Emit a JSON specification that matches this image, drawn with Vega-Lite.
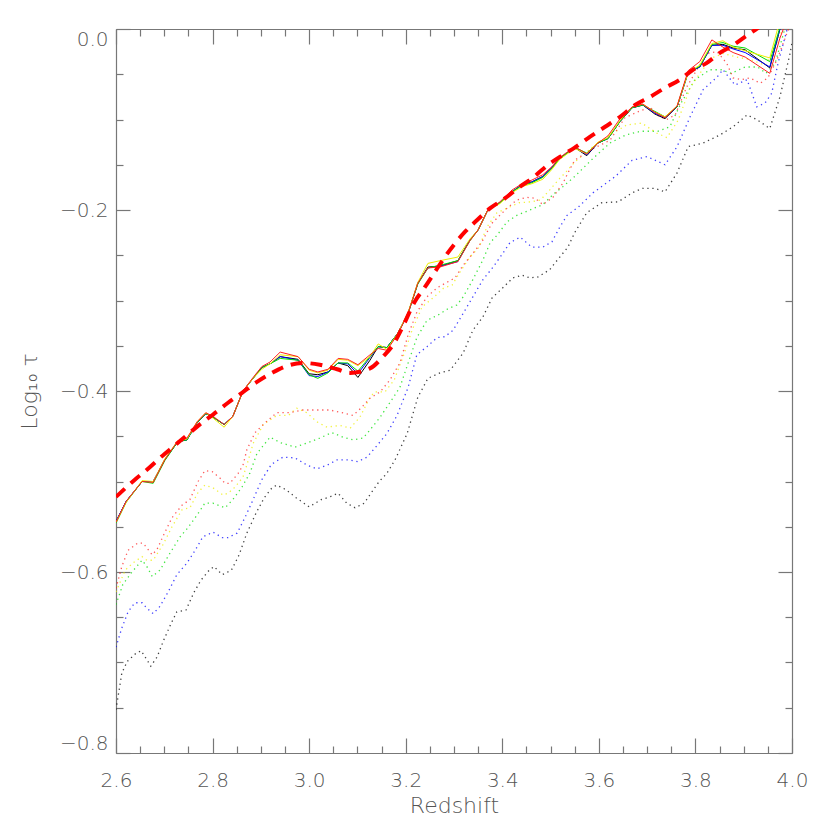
{
  "$schema": "https://vega.github.io/schema/vega-lite/v6.json",
  "width": 676,
  "height": 724,
  "autosize": {"type": "none"},
  "padding": {"left": 116, "top": 29, "right": 38, "bottom": 77},
  "background": "white",
  "config": {
    "view": {"stroke": null},
    "axis": {
      "grid": false,
      "domainColor": "#777777",
      "domainWidth": 1.2,
      "tickColor": "#777777",
      "tickWidth": 1.2,
      "labelFont": "DejaVu Sans",
      "labelFontWeight": 300,
      "labelFontSize": 20,
      "labelColor": "#555555",
      "titleFont": "DejaVu Sans",
      "titleFontWeight": 300,
      "titleFontSize": 22,
      "titleColor": "#555555",
      "labelOverlap": false,
      "labelBound": false
    }
  },
  "datasets": {
    "dotted": [
      {"s":"black","z":2.600,"v":-0.752},{"s":"black","z":2.606,"v":-0.732},{"s":"black","z":2.612,"v":-0.712},{"s":"black","z":2.623,"v":-0.699},{"s":"black","z":2.641,"v":-0.690},{"s":"black","z":2.652,"v":-0.687},{"s":"black","z":2.664,"v":-0.697},{"s":"black","z":2.672,"v":-0.704},{"s":"black","z":2.685,"v":-0.694},{"s":"black","z":2.699,"v":-0.675},{"s":"black","z":2.714,"v":-0.657},{"s":"black","z":2.726,"v":-0.644},{"s":"black","z":2.745,"v":-0.642},{"s":"black","z":2.761,"v":-0.623},{"s":"black","z":2.776,"v":-0.609},{"s":"black","z":2.793,"v":-0.598},{"s":"black","z":2.803,"v":-0.594},{"s":"black","z":2.820,"v":-0.603},{"s":"black","z":2.839,"v":-0.598},{"s":"black","z":2.855,"v":-0.581},{"s":"black","z":2.871,"v":-0.557},{"s":"black","z":2.890,"v":-0.535},{"s":"black","z":2.907,"v":-0.518},{"s":"black","z":2.923,"v":-0.507},{"s":"black","z":2.933,"v":-0.504},{"s":"black","z":2.952,"v":-0.509},{"s":"black","z":2.973,"v":-0.518},{"s":"black","z":3.000,"v":-0.528},{"s":"black","z":3.025,"v":-0.520},{"s":"black","z":3.043,"v":-0.517},{"s":"black","z":3.060,"v":-0.513},{"s":"black","z":3.078,"v":-0.524},{"s":"black","z":3.095,"v":-0.529},{"s":"black","z":3.114,"v":-0.524},{"s":"black","z":3.128,"v":-0.513},{"s":"black","z":3.145,"v":-0.500},{"s":"black","z":3.161,"v":-0.491},{"s":"black","z":3.178,"v":-0.476},{"s":"black","z":3.203,"v":-0.447},{"s":"black","z":3.225,"v":-0.407},{"s":"black","z":3.246,"v":-0.386},{"s":"black","z":3.271,"v":-0.380},{"s":"black","z":3.292,"v":-0.377},{"s":"black","z":3.319,"v":-0.358},{"s":"black","z":3.339,"v":-0.333},{"s":"black","z":3.360,"v":-0.318},{"s":"black","z":3.379,"v":-0.297},{"s":"black","z":3.401,"v":-0.286},{"s":"black","z":3.422,"v":-0.275},{"s":"black","z":3.441,"v":-0.272},{"s":"black","z":3.457,"v":-0.275},{"s":"black","z":3.474,"v":-0.274},{"s":"black","z":3.498,"v":-0.266},{"s":"black","z":3.519,"v":-0.252},{"s":"black","z":3.536,"v":-0.241},{"s":"black","z":3.550,"v":-0.225},{"s":"black","z":3.575,"v":-0.203},{"s":"black","z":3.606,"v":-0.192},{"s":"black","z":3.640,"v":-0.191},{"s":"black","z":3.669,"v":-0.181},{"s":"black","z":3.691,"v":-0.176},{"s":"black","z":3.716,"v":-0.176},{"s":"black","z":3.737,"v":-0.180},{"s":"black","z":3.762,"v":-0.159},{"s":"black","z":3.785,"v":-0.130},{"s":"black","z":3.816,"v":-0.126},{"s":"black","z":3.851,"v":-0.117},{"s":"black","z":3.878,"v":-0.108},{"s":"black","z":3.907,"v":-0.095},{"s":"black","z":3.927,"v":-0.100},{"s":"black","z":3.954,"v":-0.110},{"s":"black","z":3.975,"v":-0.075},{"s":"black","z":3.996,"v":-0.027},{"s":"black","z":4.000,"v":-0.015},
      {"s":"blue","z":2.600,"v":-0.683},{"s":"blue","z":2.612,"v":-0.662},{"s":"blue","z":2.625,"v":-0.644},{"s":"blue","z":2.639,"v":-0.634},{"s":"blue","z":2.654,"v":-0.634},{"s":"blue","z":2.664,"v":-0.640},{"s":"blue","z":2.677,"v":-0.646},{"s":"blue","z":2.691,"v":-0.638},{"s":"blue","z":2.708,"v":-0.622},{"s":"blue","z":2.726,"v":-0.603},{"s":"blue","z":2.747,"v":-0.590},{"s":"blue","z":2.764,"v":-0.576},{"s":"blue","z":2.780,"v":-0.561},{"s":"blue","z":2.801,"v":-0.556},{"s":"blue","z":2.820,"v":-0.562},{"s":"blue","z":2.832,"v":-0.562},{"s":"blue","z":2.851,"v":-0.557},{"s":"blue","z":2.867,"v":-0.540},{"s":"blue","z":2.884,"v":-0.520},{"s":"blue","z":2.902,"v":-0.498},{"s":"blue","z":2.922,"v":-0.481},{"s":"blue","z":2.946,"v":-0.473},{"s":"blue","z":2.971,"v":-0.474},{"s":"blue","z":2.996,"v":-0.482},{"s":"blue","z":3.016,"v":-0.486},{"s":"blue","z":3.037,"v":-0.482},{"s":"blue","z":3.058,"v":-0.476},{"s":"blue","z":3.080,"v":-0.476},{"s":"blue","z":3.101,"v":-0.478},{"s":"blue","z":3.120,"v":-0.473},{"s":"blue","z":3.141,"v":-0.460},{"s":"blue","z":3.161,"v":-0.447},{"s":"blue","z":3.182,"v":-0.427},{"s":"blue","z":3.205,"v":-0.396},{"s":"blue","z":3.223,"v":-0.360},{"s":"blue","z":3.244,"v":-0.351},{"s":"blue","z":3.265,"v":-0.341},{"s":"blue","z":3.281,"v":-0.340},{"s":"blue","z":3.298,"v":-0.333},{"s":"blue","z":3.317,"v":-0.316},{"s":"blue","z":3.339,"v":-0.296},{"s":"blue","z":3.360,"v":-0.277},{"s":"blue","z":3.381,"v":-0.263},{"s":"blue","z":3.401,"v":-0.248},{"s":"blue","z":3.416,"v":-0.236},{"s":"blue","z":3.437,"v":-0.230},{"s":"blue","z":3.461,"v":-0.241},{"s":"blue","z":3.484,"v":-0.241},{"s":"blue","z":3.503,"v":-0.235},{"s":"blue","z":3.519,"v":-0.219},{"s":"blue","z":3.534,"v":-0.206},{"s":"blue","z":3.557,"v":-0.197},{"s":"blue","z":3.588,"v":-0.181},{"s":"blue","z":3.634,"v":-0.163},{"s":"blue","z":3.669,"v":-0.145},{"s":"blue","z":3.700,"v":-0.141},{"s":"blue","z":3.737,"v":-0.150},{"s":"blue","z":3.762,"v":-0.130},{"s":"blue","z":3.789,"v":-0.097},{"s":"blue","z":3.816,"v":-0.067},{"s":"blue","z":3.845,"v":-0.053},{"s":"blue","z":3.857,"v":-0.045},{"s":"blue","z":3.882,"v":-0.062},{"s":"blue","z":3.907,"v":-0.056},{"s":"blue","z":3.927,"v":-0.086},{"s":"blue","z":3.944,"v":-0.082},{"s":"blue","z":3.958,"v":-0.071},{"s":"blue","z":3.971,"v":-0.038},{"s":"blue","z":3.990,"v":0.000},
      {"s":"green","z":2.600,"v":-0.636},{"s":"green","z":2.614,"v":-0.614},{"s":"green","z":2.633,"v":-0.600},{"s":"green","z":2.654,"v":-0.587},{"s":"green","z":2.664,"v":-0.594},{"s":"green","z":2.675,"v":-0.605},{"s":"green","z":2.691,"v":-0.598},{"s":"green","z":2.712,"v":-0.579},{"s":"green","z":2.733,"v":-0.561},{"s":"green","z":2.749,"v":-0.551},{"s":"green","z":2.768,"v":-0.537},{"s":"green","z":2.784,"v":-0.524},{"s":"green","z":2.801,"v":-0.524},{"s":"green","z":2.826,"v":-0.529},{"s":"green","z":2.842,"v":-0.520},{"s":"green","z":2.861,"v":-0.506},{"s":"green","z":2.877,"v":-0.491},{"s":"green","z":2.892,"v":-0.469},{"s":"green","z":2.919,"v":-0.451},{"s":"green","z":2.940,"v":-0.457},{"s":"green","z":2.971,"v":-0.462},{"s":"green","z":2.998,"v":-0.457},{"s":"green","z":3.022,"v":-0.452},{"s":"green","z":3.047,"v":-0.446},{"s":"green","z":3.070,"v":-0.451},{"s":"green","z":3.091,"v":-0.454},{"s":"green","z":3.112,"v":-0.452},{"s":"green","z":3.126,"v":-0.443},{"s":"green","z":3.147,"v":-0.429},{"s":"green","z":3.167,"v":-0.413},{"s":"green","z":3.188,"v":-0.396},{"s":"green","z":3.205,"v":-0.369},{"s":"green","z":3.223,"v":-0.341},{"s":"green","z":3.244,"v":-0.322},{"s":"green","z":3.267,"v":-0.316},{"s":"green","z":3.288,"v":-0.309},{"s":"green","z":3.306,"v":-0.305},{"s":"green","z":3.319,"v":-0.296},{"s":"green","z":3.339,"v":-0.277},{"s":"green","z":3.360,"v":-0.255},{"s":"green","z":3.375,"v":-0.236},{"s":"green","z":3.389,"v":-0.228},{"s":"green","z":3.410,"v":-0.213},{"s":"green","z":3.430,"v":-0.206},{"s":"green","z":3.457,"v":-0.200},{"s":"green","z":3.484,"v":-0.194},{"s":"green","z":3.505,"v":-0.183},{"s":"green","z":3.526,"v":-0.174},{"s":"green","z":3.550,"v":-0.163},{"s":"green","z":3.584,"v":-0.145},{"s":"green","z":3.623,"v":-0.126},{"s":"green","z":3.656,"v":-0.117},{"s":"green","z":3.687,"v":-0.113},{"s":"green","z":3.722,"v":-0.113},{"s":"green","z":3.747,"v":-0.108},{"s":"green","z":3.770,"v":-0.082},{"s":"green","z":3.799,"v":-0.056},{"s":"green","z":3.830,"v":-0.045},{"s":"green","z":3.853,"v":-0.045},{"s":"green","z":3.874,"v":-0.049},{"s":"green","z":3.903,"v":-0.042},{"s":"green","z":3.929,"v":-0.042},{"s":"green","z":3.946,"v":-0.049},{"s":"green","z":3.965,"v":-0.038},{"s":"green","z":3.985,"v":0.000},
      {"s":"yellow","z":2.600,"v":-0.622},{"s":"yellow","z":2.619,"v":-0.598},{"s":"yellow","z":2.635,"v":-0.590},{"s":"yellow","z":2.654,"v":-0.583},{"s":"yellow","z":2.664,"v":-0.587},{"s":"yellow","z":2.677,"v":-0.587},{"s":"yellow","z":2.697,"v":-0.570},{"s":"yellow","z":2.716,"v":-0.550},{"s":"yellow","z":2.737,"v":-0.531},{"s":"yellow","z":2.753,"v":-0.529},{"s":"yellow","z":2.770,"v":-0.512},{"s":"yellow","z":2.784,"v":-0.504},{"s":"yellow","z":2.801,"v":-0.507},{"s":"yellow","z":2.822,"v":-0.515},{"s":"yellow","z":2.832,"v":-0.513},{"s":"yellow","z":2.847,"v":-0.506},{"s":"yellow","z":2.863,"v":-0.495},{"s":"yellow","z":2.872,"v":-0.480},{"s":"yellow","z":2.884,"v":-0.458},{"s":"yellow","z":2.905,"v":-0.437},{"s":"yellow","z":2.933,"v":-0.427},{"s":"yellow","z":2.957,"v":-0.427},{"s":"yellow","z":2.974,"v":-0.419},{"s":"yellow","z":2.995,"v":-0.424},{"s":"yellow","z":3.016,"v":-0.434},{"s":"yellow","z":3.037,"v":-0.440},{"s":"yellow","z":3.064,"v":-0.438},{"s":"yellow","z":3.085,"v":-0.441},{"s":"yellow","z":3.105,"v":-0.429},{"s":"yellow","z":3.126,"v":-0.407},{"s":"yellow","z":3.136,"v":-0.401},{"s":"yellow","z":3.157,"v":-0.401},{"s":"yellow","z":3.176,"v":-0.388},{"s":"yellow","z":3.196,"v":-0.360},{"s":"yellow","z":3.213,"v":-0.333},{"s":"yellow","z":3.234,"v":-0.307},{"s":"yellow","z":3.259,"v":-0.296},{"s":"yellow","z":3.279,"v":-0.286},{"s":"yellow","z":3.296,"v":-0.283},{"s":"yellow","z":3.313,"v":-0.268},{"s":"yellow","z":3.333,"v":-0.252},{"s":"yellow","z":3.352,"v":-0.241},{"s":"yellow","z":3.368,"v":-0.219},{"s":"yellow","z":3.389,"v":-0.203},{"s":"yellow","z":3.414,"v":-0.197},{"s":"yellow","z":3.435,"v":-0.192},{"s":"yellow","z":3.458,"v":-0.191},{"s":"yellow","z":3.479,"v":-0.189},{"s":"yellow","z":3.498,"v":-0.178},{"s":"yellow","z":3.519,"v":-0.165},{"s":"yellow","z":3.532,"v":-0.158},{"s":"yellow","z":3.550,"v":-0.147},{"s":"yellow","z":3.588,"v":-0.130},{"s":"yellow","z":3.623,"v":-0.117},{"s":"yellow","z":3.658,"v":-0.106},{"s":"yellow","z":3.689,"v":-0.104},{"s":"yellow","z":3.720,"v":-0.115},{"s":"yellow","z":3.741,"v":-0.120},{"s":"yellow","z":3.764,"v":-0.101},{"s":"yellow","z":3.789,"v":-0.065},{"s":"yellow","z":3.809,"v":-0.049},{"s":"yellow","z":3.834,"v":-0.032},{"s":"yellow","z":3.857,"v":-0.027},{"s":"yellow","z":3.886,"v":-0.031},{"s":"yellow","z":3.915,"v":-0.034},{"s":"yellow","z":3.945,"v":-0.040},{"s":"yellow","z":3.965,"v":-0.020},{"s":"yellow","z":3.985,"v":0.005},
      {"s":"red","z":2.600,"v":-0.618},{"s":"red","z":2.612,"v":-0.594},{"s":"red","z":2.625,"v":-0.576},{"s":"red","z":2.645,"v":-0.568},{"s":"red","z":2.656,"v":-0.568},{"s":"red","z":2.675,"v":-0.581},{"s":"red","z":2.685,"v":-0.575},{"s":"red","z":2.697,"v":-0.561},{"s":"red","z":2.716,"v":-0.540},{"s":"red","z":2.737,"v":-0.526},{"s":"red","z":2.753,"v":-0.520},{"s":"red","z":2.770,"v":-0.500},{"s":"red","z":2.784,"v":-0.488},{"s":"red","z":2.799,"v":-0.489},{"s":"red","z":2.815,"v":-0.496},{"s":"red","z":2.826,"v":-0.502},{"s":"red","z":2.836,"v":-0.502},{"s":"red","z":2.853,"v":-0.491},{"s":"red","z":2.863,"v":-0.482},{"s":"red","z":2.871,"v":-0.465},{"s":"red","z":2.888,"v":-0.446},{"s":"red","z":2.909,"v":-0.435},{"s":"red","z":2.933,"v":-0.424},{"s":"red","z":2.960,"v":-0.424},{"s":"red","z":2.985,"v":-0.421},{"s":"red","z":3.016,"v":-0.421},{"s":"red","z":3.043,"v":-0.421},{"s":"red","z":3.068,"v":-0.424},{"s":"red","z":3.091,"v":-0.427},{"s":"red","z":3.109,"v":-0.418},{"s":"red","z":3.126,"v":-0.408},{"s":"red","z":3.147,"v":-0.401},{"s":"red","z":3.167,"v":-0.388},{"s":"red","z":3.188,"v":-0.369},{"s":"red","z":3.205,"v":-0.338},{"s":"red","z":3.223,"v":-0.313},{"s":"red","z":3.244,"v":-0.296},{"s":"red","z":3.265,"v":-0.286},{"s":"red","z":3.285,"v":-0.280},{"s":"red","z":3.302,"v":-0.275},{"s":"red","z":3.319,"v":-0.261},{"s":"red","z":3.339,"v":-0.248},{"s":"red","z":3.358,"v":-0.235},{"s":"red","z":3.378,"v":-0.215},{"s":"red","z":3.389,"v":-0.209},{"s":"red","z":3.410,"v":-0.198},{"s":"red","z":3.430,"v":-0.189},{"s":"red","z":3.451,"v":-0.186},{"s":"red","z":3.468,"v":-0.187},{"s":"red","z":3.484,"v":-0.194},{"s":"red","z":3.505,"v":-0.186},{"s":"red","z":3.526,"v":-0.170},{"s":"red","z":3.536,"v":-0.159},{"s":"red","z":3.550,"v":-0.145},{"s":"red","z":3.585,"v":-0.133},{"s":"red","z":3.623,"v":-0.123},{"s":"red","z":3.654,"v":-0.098},{"s":"red","z":3.679,"v":-0.092},{"s":"red","z":3.706,"v":-0.086},{"s":"red","z":3.720,"v":-0.095},{"s":"red","z":3.740,"v":-0.100},{"s":"red","z":3.758,"v":-0.095},{"s":"red","z":3.782,"v":-0.064},{"s":"red","z":3.803,"v":-0.045},{"s":"red","z":3.824,"v":-0.027},{"s":"red","z":3.845,"v":-0.025},{"s":"red","z":3.865,"v":-0.038},{"s":"red","z":3.878,"v":-0.054},{"s":"red","z":3.896,"v":-0.056},{"s":"red","z":3.913,"v":-0.054},{"s":"red","z":3.934,"v":-0.060},{"s":"red","z":3.950,"v":-0.054},{"s":"red","z":3.969,"v":-0.034},{"s":"red","z":3.990,"v":-0.004},{"s":"red","z":4.000,"v":0.010}
    ],
    "solid": [
      {"s":"black","z":2.600,"v":-0.544},{"s":"black","z":2.621,"v":-0.522},{"s":"black","z":2.654,"v":-0.500},{"s":"black","z":2.677,"v":-0.500},{"s":"black","z":2.701,"v":-0.476},{"s":"black","z":2.728,"v":-0.456},{"s":"black","z":2.747,"v":-0.454},{"s":"black","z":2.768,"v":-0.435},{"s":"black","z":2.786,"v":-0.425},{"s":"black","z":2.801,"v":-0.429},{"s":"black","z":2.824,"v":-0.437},{"s":"black","z":2.842,"v":-0.428},{"s":"black","z":2.863,"v":-0.400},{"s":"black","z":2.884,"v":-0.386},{"s":"black","z":2.902,"v":-0.374},{"s":"black","z":2.919,"v":-0.370},{"s":"black","z":2.940,"v":-0.362},{"s":"black","z":2.977,"v":-0.365},{"s":"black","z":3.000,"v":-0.381},{"s":"black","z":3.018,"v":-0.382},{"s":"black","z":3.039,"v":-0.379},{"s":"black","z":3.060,"v":-0.369},{"s":"black","z":3.080,"v":-0.372},{"s":"black","z":3.101,"v":-0.385},{"s":"black","z":3.126,"v":-0.366},{"s":"black","z":3.143,"v":-0.351},{"s":"black","z":3.161,"v":-0.352},{"s":"black","z":3.184,"v":-0.336},{"s":"black","z":3.205,"v":-0.314},{"s":"black","z":3.225,"v":-0.281},{"s":"black","z":3.246,"v":-0.263},{"s":"black","z":3.271,"v":-0.262},{"s":"black","z":3.308,"v":-0.256},{"s":"black","z":3.333,"v":-0.233},{"s":"black","z":3.350,"v":-0.222},{"s":"black","z":3.370,"v":-0.200},{"s":"black","z":3.395,"v":-0.192},{"s":"black","z":3.420,"v":-0.180},{"s":"black","z":3.441,"v":-0.172},{"s":"black","z":3.461,"v":-0.169},{"s":"black","z":3.484,"v":-0.163},{"s":"black","z":3.503,"v":-0.153},{"s":"black","z":3.519,"v":-0.143},{"s":"black","z":3.550,"v":-0.131},{"s":"black","z":3.575,"v":-0.140},{"s":"black","z":3.598,"v":-0.126},{"s":"black","z":3.619,"v":-0.121},{"s":"black","z":3.644,"v":-0.102},{"s":"black","z":3.669,"v":-0.087},{"s":"black","z":3.691,"v":-0.084},{"s":"black","z":3.716,"v":-0.094},{"s":"black","z":3.737,"v":-0.099},{"s":"black","z":3.762,"v":-0.086},{"s":"black","z":3.785,"v":-0.048},{"s":"black","z":3.809,"v":-0.042},{"s":"black","z":3.834,"v":-0.018},{"s":"black","z":3.857,"v":-0.017},{"s":"black","z":3.878,"v":-0.021},{"s":"black","z":3.903,"v":-0.023},{"s":"black","z":3.954,"v":-0.043},{"s":"black","z":3.975,"v":0.000},{"s":"black","z":4.000,"v":0.030},
      {"s":"blue","z":2.600,"v":-0.544},{"s":"blue","z":2.621,"v":-0.522},{"s":"blue","z":2.654,"v":-0.500},{"s":"blue","z":2.677,"v":-0.500},{"s":"blue","z":2.701,"v":-0.476},{"s":"blue","z":2.728,"v":-0.456},{"s":"blue","z":2.747,"v":-0.454},{"s":"blue","z":2.768,"v":-0.435},{"s":"blue","z":2.786,"v":-0.425},{"s":"blue","z":2.801,"v":-0.429},{"s":"blue","z":2.824,"v":-0.437},{"s":"blue","z":2.842,"v":-0.428},{"s":"blue","z":2.863,"v":-0.400},{"s":"blue","z":2.884,"v":-0.386},{"s":"blue","z":2.902,"v":-0.374},{"s":"blue","z":2.919,"v":-0.370},{"s":"blue","z":2.940,"v":-0.362},{"s":"blue","z":2.977,"v":-0.366},{"s":"blue","z":3.000,"v":-0.383},{"s":"blue","z":3.018,"v":-0.384},{"s":"blue","z":3.039,"v":-0.379},{"s":"blue","z":3.060,"v":-0.369},{"s":"blue","z":3.080,"v":-0.370},{"s":"blue","z":3.101,"v":-0.381},{"s":"blue","z":3.126,"v":-0.363},{"s":"blue","z":3.143,"v":-0.351},{"s":"blue","z":3.161,"v":-0.352},{"s":"blue","z":3.184,"v":-0.336},{"s":"blue","z":3.205,"v":-0.314},{"s":"blue","z":3.225,"v":-0.281},{"s":"blue","z":3.246,"v":-0.264},{"s":"blue","z":3.271,"v":-0.262},{"s":"blue","z":3.308,"v":-0.257},{"s":"blue","z":3.333,"v":-0.233},{"s":"blue","z":3.350,"v":-0.222},{"s":"blue","z":3.370,"v":-0.200},{"s":"blue","z":3.395,"v":-0.192},{"s":"blue","z":3.420,"v":-0.180},{"s":"blue","z":3.441,"v":-0.172},{"s":"blue","z":3.461,"v":-0.169},{"s":"blue","z":3.484,"v":-0.163},{"s":"blue","z":3.503,"v":-0.153},{"s":"blue","z":3.519,"v":-0.143},{"s":"blue","z":3.550,"v":-0.131},{"s":"blue","z":3.575,"v":-0.139},{"s":"blue","z":3.598,"v":-0.126},{"s":"blue","z":3.619,"v":-0.121},{"s":"blue","z":3.644,"v":-0.102},{"s":"blue","z":3.669,"v":-0.087},{"s":"blue","z":3.691,"v":-0.084},{"s":"blue","z":3.716,"v":-0.093},{"s":"blue","z":3.737,"v":-0.098},{"s":"blue","z":3.762,"v":-0.086},{"s":"blue","z":3.785,"v":-0.048},{"s":"blue","z":3.809,"v":-0.042},{"s":"blue","z":3.834,"v":-0.018},{"s":"blue","z":3.857,"v":-0.018},{"s":"blue","z":3.878,"v":-0.022},{"s":"blue","z":3.903,"v":-0.026},{"s":"blue","z":3.954,"v":-0.042},{"s":"blue","z":3.975,"v":0.000},{"s":"blue","z":4.000,"v":0.030},
      {"s":"green","z":2.600,"v":-0.546},{"s":"green","z":2.621,"v":-0.523},{"s":"green","z":2.654,"v":-0.500},{"s":"green","z":2.677,"v":-0.502},{"s":"green","z":2.701,"v":-0.477},{"s":"green","z":2.728,"v":-0.456},{"s":"green","z":2.747,"v":-0.454},{"s":"green","z":2.768,"v":-0.435},{"s":"green","z":2.786,"v":-0.425},{"s":"green","z":2.801,"v":-0.429},{"s":"green","z":2.824,"v":-0.437},{"s":"green","z":2.842,"v":-0.428},{"s":"green","z":2.863,"v":-0.400},{"s":"green","z":2.884,"v":-0.386},{"s":"green","z":2.902,"v":-0.374},{"s":"green","z":2.919,"v":-0.370},{"s":"green","z":2.940,"v":-0.364},{"s":"green","z":2.977,"v":-0.366},{"s":"green","z":3.000,"v":-0.382},{"s":"green","z":3.018,"v":-0.386},{"s":"green","z":3.039,"v":-0.380},{"s":"green","z":3.060,"v":-0.369},{"s":"green","z":3.080,"v":-0.369},{"s":"green","z":3.101,"v":-0.378},{"s":"green","z":3.126,"v":-0.362},{"s":"green","z":3.143,"v":-0.351},{"s":"green","z":3.161,"v":-0.352},{"s":"green","z":3.184,"v":-0.336},{"s":"green","z":3.205,"v":-0.314},{"s":"green","z":3.225,"v":-0.282},{"s":"green","z":3.246,"v":-0.264},{"s":"green","z":3.271,"v":-0.261},{"s":"green","z":3.308,"v":-0.256},{"s":"green","z":3.333,"v":-0.234},{"s":"green","z":3.350,"v":-0.222},{"s":"green","z":3.370,"v":-0.200},{"s":"green","z":3.395,"v":-0.192},{"s":"green","z":3.420,"v":-0.180},{"s":"green","z":3.441,"v":-0.173},{"s":"green","z":3.461,"v":-0.170},{"s":"green","z":3.484,"v":-0.164},{"s":"green","z":3.503,"v":-0.154},{"s":"green","z":3.519,"v":-0.143},{"s":"green","z":3.550,"v":-0.131},{"s":"green","z":3.575,"v":-0.137},{"s":"green","z":3.598,"v":-0.126},{"s":"green","z":3.619,"v":-0.121},{"s":"green","z":3.644,"v":-0.102},{"s":"green","z":3.669,"v":-0.087},{"s":"green","z":3.691,"v":-0.084},{"s":"green","z":3.716,"v":-0.091},{"s":"green","z":3.737,"v":-0.097},{"s":"green","z":3.762,"v":-0.086},{"s":"green","z":3.785,"v":-0.048},{"s":"green","z":3.809,"v":-0.041},{"s":"green","z":3.834,"v":-0.017},{"s":"green","z":3.857,"v":-0.015},{"s":"green","z":3.878,"v":-0.019},{"s":"green","z":3.903,"v":-0.021},{"s":"green","z":3.954,"v":-0.036},{"s":"green","z":3.975,"v":0.002},{"s":"green","z":4.000,"v":0.030},
      {"s":"yellow","z":2.600,"v":-0.545},{"s":"yellow","z":2.621,"v":-0.523},{"s":"yellow","z":2.654,"v":-0.499},{"s":"yellow","z":2.677,"v":-0.500},{"s":"yellow","z":2.701,"v":-0.475},{"s":"yellow","z":2.728,"v":-0.455},{"s":"yellow","z":2.747,"v":-0.453},{"s":"yellow","z":2.768,"v":-0.434},{"s":"yellow","z":2.786,"v":-0.424},{"s":"yellow","z":2.801,"v":-0.430},{"s":"yellow","z":2.824,"v":-0.440},{"s":"yellow","z":2.842,"v":-0.428},{"s":"yellow","z":2.863,"v":-0.400},{"s":"yellow","z":2.884,"v":-0.386},{"s":"yellow","z":2.902,"v":-0.376},{"s":"yellow","z":2.919,"v":-0.370},{"s":"yellow","z":2.940,"v":-0.360},{"s":"yellow","z":2.977,"v":-0.362},{"s":"yellow","z":3.000,"v":-0.377},{"s":"yellow","z":3.018,"v":-0.380},{"s":"yellow","z":3.039,"v":-0.377},{"s":"yellow","z":3.060,"v":-0.365},{"s":"yellow","z":3.080,"v":-0.366},{"s":"yellow","z":3.101,"v":-0.372},{"s":"yellow","z":3.126,"v":-0.362},{"s":"yellow","z":3.143,"v":-0.348},{"s":"yellow","z":3.161,"v":-0.354},{"s":"yellow","z":3.184,"v":-0.336},{"s":"yellow","z":3.205,"v":-0.313},{"s":"yellow","z":3.225,"v":-0.280},{"s":"yellow","z":3.246,"v":-0.259},{"s":"yellow","z":3.271,"v":-0.256},{"s":"yellow","z":3.308,"v":-0.252},{"s":"yellow","z":3.333,"v":-0.232},{"s":"yellow","z":3.350,"v":-0.222},{"s":"yellow","z":3.370,"v":-0.200},{"s":"yellow","z":3.395,"v":-0.193},{"s":"yellow","z":3.420,"v":-0.181},{"s":"yellow","z":3.441,"v":-0.174},{"s":"yellow","z":3.461,"v":-0.171},{"s":"yellow","z":3.484,"v":-0.166},{"s":"yellow","z":3.503,"v":-0.155},{"s":"yellow","z":3.519,"v":-0.144},{"s":"yellow","z":3.550,"v":-0.132},{"s":"yellow","z":3.575,"v":-0.138},{"s":"yellow","z":3.598,"v":-0.125},{"s":"yellow","z":3.619,"v":-0.120},{"s":"yellow","z":3.644,"v":-0.101},{"s":"yellow","z":3.669,"v":-0.086},{"s":"yellow","z":3.691,"v":-0.083},{"s":"yellow","z":3.716,"v":-0.092},{"s":"yellow","z":3.737,"v":-0.097},{"s":"yellow","z":3.762,"v":-0.085},{"s":"yellow","z":3.785,"v":-0.048},{"s":"yellow","z":3.809,"v":-0.040},{"s":"yellow","z":3.834,"v":-0.016},{"s":"yellow","z":3.857,"v":-0.013},{"s":"yellow","z":3.878,"v":-0.020},{"s":"yellow","z":3.903,"v":-0.024},{"s":"yellow","z":3.954,"v":-0.032},{"s":"yellow","z":3.975,"v":0.010},{"s":"yellow","z":4.000,"v":0.040},
      {"s":"red","z":2.600,"v":-0.545},{"s":"red","z":2.621,"v":-0.522},{"s":"red","z":2.654,"v":-0.500},{"s":"red","z":2.677,"v":-0.501},{"s":"red","z":2.701,"v":-0.476},{"s":"red","z":2.728,"v":-0.455},{"s":"red","z":2.747,"v":-0.452},{"s":"red","z":2.768,"v":-0.434},{"s":"red","z":2.786,"v":-0.424},{"s":"red","z":2.801,"v":-0.428},{"s":"red","z":2.824,"v":-0.437},{"s":"red","z":2.842,"v":-0.428},{"s":"red","z":2.863,"v":-0.400},{"s":"red","z":2.884,"v":-0.385},{"s":"red","z":2.902,"v":-0.373},{"s":"red","z":2.919,"v":-0.368},{"s":"red","z":2.940,"v":-0.357},{"s":"red","z":2.977,"v":-0.362},{"s":"red","z":3.000,"v":-0.376},{"s":"red","z":3.018,"v":-0.379},{"s":"red","z":3.039,"v":-0.376},{"s":"red","z":3.060,"v":-0.364},{"s":"red","z":3.080,"v":-0.365},{"s":"red","z":3.101,"v":-0.371},{"s":"red","z":3.126,"v":-0.360},{"s":"red","z":3.143,"v":-0.353},{"s":"red","z":3.161,"v":-0.355},{"s":"red","z":3.184,"v":-0.337},{"s":"red","z":3.205,"v":-0.314},{"s":"red","z":3.225,"v":-0.281},{"s":"red","z":3.246,"v":-0.264},{"s":"red","z":3.271,"v":-0.263},{"s":"red","z":3.308,"v":-0.257},{"s":"red","z":3.333,"v":-0.234},{"s":"red","z":3.350,"v":-0.222},{"s":"red","z":3.370,"v":-0.200},{"s":"red","z":3.395,"v":-0.191},{"s":"red","z":3.420,"v":-0.178},{"s":"red","z":3.441,"v":-0.171},{"s":"red","z":3.461,"v":-0.167},{"s":"red","z":3.484,"v":-0.161},{"s":"red","z":3.503,"v":-0.152},{"s":"red","z":3.519,"v":-0.142},{"s":"red","z":3.550,"v":-0.130},{"s":"red","z":3.575,"v":-0.138},{"s":"red","z":3.598,"v":-0.126},{"s":"red","z":3.619,"v":-0.118},{"s":"red","z":3.644,"v":-0.099},{"s":"red","z":3.669,"v":-0.086},{"s":"red","z":3.691,"v":-0.083},{"s":"red","z":3.716,"v":-0.092},{"s":"red","z":3.737,"v":-0.098},{"s":"red","z":3.762,"v":-0.085},{"s":"red","z":3.785,"v":-0.046},{"s":"red","z":3.809,"v":-0.036},{"s":"red","z":3.834,"v":-0.012},{"s":"red","z":3.857,"v":-0.020},{"s":"red","z":3.878,"v":-0.026},{"s":"red","z":3.903,"v":-0.031},{"s":"red","z":3.954,"v":-0.049},{"s":"red","z":3.975,"v":-0.010},{"s":"red","z":4.000,"v":0.025}
    ],
    "fit": [
      {"z":2.600,"v":-0.517},{"z":2.639,"v":-0.498},{"z":2.664,"v":-0.487},{"z":2.691,"v":-0.474},{"z":2.722,"v":-0.460},{"z":2.753,"v":-0.446},{"z":2.778,"v":-0.435},{"z":2.801,"v":-0.426},{"z":2.832,"v":-0.413},{"z":2.861,"v":-0.402},{"z":2.892,"v":-0.390},{"z":2.923,"v":-0.380},{"z":2.950,"v":-0.373},{"z":2.987,"v":-0.369},{"z":3.022,"v":-0.371},{"z":3.058,"v":-0.376},{"z":3.085,"v":-0.380},{"z":3.126,"v":-0.375},{"z":3.153,"v":-0.362},{"z":3.175,"v":-0.348},{"z":3.192,"v":-0.331},{"z":3.219,"v":-0.301},{"z":3.240,"v":-0.285},{"z":3.261,"v":-0.268},{"z":3.281,"v":-0.252},{"z":3.302,"v":-0.237},{"z":3.323,"v":-0.224},{"z":3.348,"v":-0.211},{"z":3.375,"v":-0.198},{"z":3.406,"v":-0.187},{"z":3.432,"v":-0.176},{"z":3.464,"v":-0.164},{"z":3.495,"v":-0.150},{"z":3.526,"v":-0.139},{"z":3.550,"v":-0.131},{"z":3.582,"v":-0.119},{"z":3.613,"v":-0.108},{"z":3.644,"v":-0.097},{"z":3.675,"v":-0.084},{"z":3.706,"v":-0.075},{"z":3.737,"v":-0.065},{"z":3.768,"v":-0.056},{"z":3.795,"v":-0.045},{"z":3.822,"v":-0.038},{"z":3.849,"v":-0.027},{"z":3.878,"v":-0.018},{"z":3.907,"v":-0.007},{"z":3.929,"v":0.001},{"z":3.950,"v":0.010}
    ]
  },
  "resolve": {"axis": {"x": "independent", "y": "independent"}},
  "layer": [
    {
      "data": {"name": "dotted"},
      "mark": {"type": "line", "strokeWidth": 1.3, "strokeDash": [1.3, 3.7], "opacity": 0.75, "clip": true},
      "encoding": {
        "x": {
          "field": "z", "type": "quantitative",
          "scale": {"domain": [2.6, 4.0], "nice": false, "zero": false},
          "axis": {
            "orient": "bottom",
            "title": "Redshift",
            "titlePadding": -3,
            "values": [2.6,2.65,2.7,2.75,2.8,2.85,2.9,2.95,3.0,3.05,3.1,3.15,3.2,3.25,3.3,3.35,3.4,3.45,3.5,3.55,3.6,3.65,3.7,3.75,3.8,3.85,3.9,3.95,4.0],
            "labelExpr": "abs(datum.value*5-round(datum.value*5))<0.001 ? format(datum.value,'.1f') : ''",
            "labelFlush": false,
            "labelPadding": 32,
            "tickSize": {"condition": {"test": "abs(datum.value*5-round(datum.value*5))<0.001", "value": -15}, "value": -7}
          }
        },
        "y": {
          "field": "v", "type": "quantitative",
          "scale": {"domain": [-0.8, 0.0], "nice": false, "zero": false},
          "axis": {
            "orient": "left",
            "title": "Log₁₀ τ",
            "titlePadding": 18,
            "values": [-0.8,-0.75,-0.7,-0.65,-0.6,-0.55,-0.5,-0.45,-0.4,-0.35,-0.3,-0.25,-0.2,-0.15,-0.1,-0.05,0.0],
            "labelExpr": "abs(datum.value*5-round(datum.value*5))<0.001 ? format(datum.value,'.1f') : ''",
            "labelFlush": true,
            "labelPadding": 22,
            "tickSize": {"condition": {"test": "abs(datum.value*5-round(datum.value*5))<0.001", "value": -14}, "value": -7}
          }
        },
        "color": {
          "field": "s", "type": "nominal", "legend": null,
          "scale": {"domain": ["black", "blue", "green", "yellow", "red"], "range": ["#000000", "#0000ff", "#00dd00", "#eeee00", "#ff2020"]}
        },
        "order": {"field": "z", "type": "quantitative"}
      }
    },
    {
      "data": {"name": "solid"},
      "mark": {"type": "line", "strokeWidth": 1, "clip": true},
      "encoding": {
        "x": {
          "field": "z", "type": "quantitative",
          "scale": {"domain": [2.6, 4.0], "nice": false, "zero": false},
          "axis": {
            "orient": "top",
            "title": null,
            "labels": false,
            "values": [2.6,2.65,2.7,2.75,2.8,2.85,2.9,2.95,3.0,3.05,3.1,3.15,3.2,3.25,3.3,3.35,3.4,3.45,3.5,3.55,3.6,3.65,3.7,3.75,3.8,3.85,3.9,3.95,4.0],
            "tickSize": {"condition": {"test": "abs(datum.value*5-round(datum.value*5))<0.001", "value": -15}, "value": -7}
          }
        },
        "y": {
          "field": "v", "type": "quantitative",
          "scale": {"domain": [-0.8, 0.0], "nice": false, "zero": false},
          "axis": {
            "orient": "right",
            "title": null,
            "labels": false,
            "values": [-0.8,-0.75,-0.7,-0.65,-0.6,-0.55,-0.5,-0.45,-0.4,-0.35,-0.3,-0.25,-0.2,-0.15,-0.1,-0.05,0.0],
            "tickSize": {"condition": {"test": "abs(datum.value*5-round(datum.value*5))<0.001", "value": -14}, "value": -7}
          }
        },
        "color": {"field": "s", "type": "nominal", "legend": null},
        "order": {"field": "z", "type": "quantitative"}
      }
    },
    {
      "data": {"name": "fit"},
      "mark": {"type": "line", "color": "#ff0000", "strokeWidth": 4, "strokeDash": [12, 8], "interpolate": "monotone", "clip": true},
      "encoding": {
        "x": {"field": "z", "type": "quantitative", "scale": {"domain": [2.6, 4.0], "nice": false, "zero": false}, "axis": null},
        "y": {"field": "v", "type": "quantitative", "scale": {"domain": [-0.8, 0.0], "nice": false, "zero": false}, "axis": null}
      }
    }
  ]
}
